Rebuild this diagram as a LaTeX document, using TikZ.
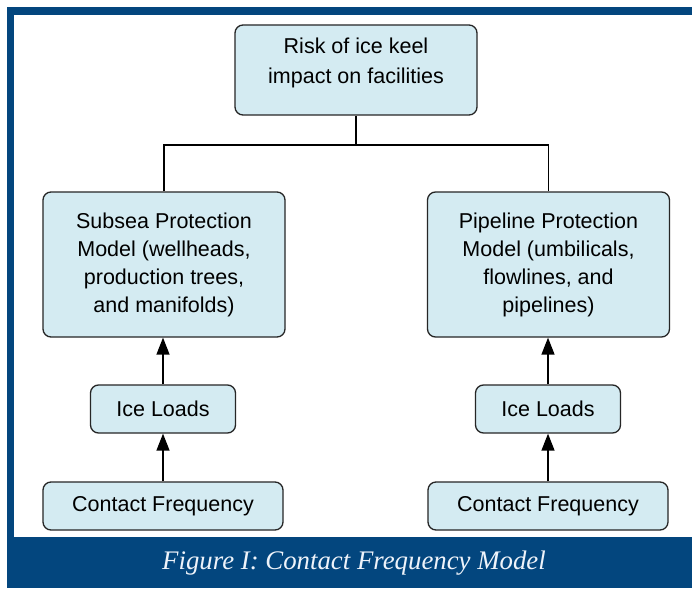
\documentclass[tikz,border=0pt]{standalone}
\usepackage{fontspec}
\setmainfont{Liberation Sans}
\newfontfamily\capfont{Liberation Serif}
\usetikzlibrary{arrows.meta}
\definecolor{frameblue}{HTML}{03467E}
\definecolor{boxfill}{HTML}{D4EBF2}
\definecolor{captext}{HTML}{EEF3FA}
\tikzset{
  box/.style={draw=black!85, line width=1.3pt, fill=boxfill, rounded corners=8pt,
    align=center, inner sep=0pt, font=\fontsize{21.5}{28}\selectfont},
  link/.style={draw=black, line width=1.4pt},
  uparrow/.style={draw=black, line width=1.4pt, -{Triangle[width=13pt,length=17pt]}}
}
\begin{document}
\begin{tikzpicture}[x=1pt,y=-1pt]
\useasboundingbox (0,0) rectangle (692,588);
\fill[white] (0,0) rectangle (692,588);
% frame
\fill[frameblue] (7,7) rectangle (692,15);
\fill[frameblue] (7,7) rectangle (14,588);
\fill[frameblue] (7,537) rectangle (692,588);
% boxes
\node[box, minimum width=242pt, minimum height=90pt] (top) at (356,70) {};
\node[align=center, inner sep=0pt, font=\fontsize{21.5}{30}\selectfont] (toptext) at (356,63)
  {Risk of ice keel\\impact on facilities};
\node[box, minimum width=242pt, minimum height=145pt] (lbig) at (164,264.5)
  {Subsea Protection\\Model (wellheads,\\production trees,\\and manifolds)};
\node[box, minimum width=242pt, minimum height=145pt] (rbig) at (548.5,264.5)
  {Pipeline Protection\\Model (umbilicals,\\flowlines, and\\pipelines)};
\node[box, minimum width=145pt, minimum height=48pt] (lice) at (163,409) {Ice Loads};
\node[box, minimum width=145pt, minimum height=48pt] (rice) at (548,409) {Ice Loads};
\node[box, minimum width=240pt, minimum height=48pt] (lcf) at (163,506) {Contact Frequency};
\node[box, minimum width=240pt, minimum height=48pt] (rcf) at (548,506) {Contact Frequency};
% tree connectors
\coordinate (j) at (356,145);
\coordinate (hl) at (164,145);
\coordinate (hr) at (548.5,145);
\draw[link] (top.south) -- (j);
\draw[link] (lbig.north) -- (hl) -- (hr) -- (rbig.north);
% arrows
\draw[uparrow] (lice.north) -- (lice.north |- lbig.south);
\draw[uparrow] (rice.north) -- (rice.north |- rbig.south);
\draw[uparrow] (lcf.north) -- (lice.south);
\draw[uparrow] (rcf.north) -- (rice.south);
% caption
\node[text=captext, font=\capfont\itshape\fontsize{26.8}{30}\selectfont] (cap) at (354,563)
  {Figure I: Contact Frequency Model};
\end{tikzpicture}
\end{document}
